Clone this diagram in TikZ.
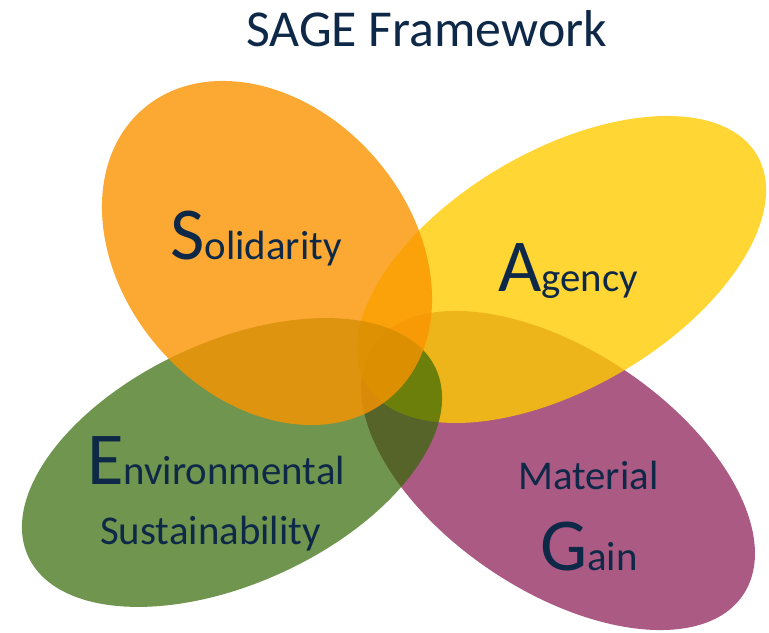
\documentclass[tikz,border=0pt]{standalone}
\usepackage{fontspec}
\setmainfont{Carlito}
\usetikzlibrary{shapes.geometric}
\definecolor{navy}{RGB}{14,40,72}
\definecolor{cpurple}{RGB}{171,90,131}
\definecolor{cyellow}{RGB}{255,204,0}
\definecolor{cgreen}{RGB}{52,105,4}
\definecolor{corange}{RGB}{250,148,0}
\tikzset{
  petal/.style={ellipse, draw=none, inner sep=0pt, outer sep=0pt},
  label/.style={anchor=base west, inner sep=0pt, text=navy, font=\fontsize{41}{41}\selectfont},
}
\newcommand{\bigini}[1]{{\fontsize{75}{75}\selectfont #1}}
\begin{document}
\begin{tikzpicture}[x=1bp,y=1bp]
\fill[white] (0,0) rectangle (769,633);
\useasboundingbox (0,0) rectangle (769,633);
\node[petal, fill=cpurple, minimum width=446bp, minimum height=240.8bp, rotate=-33.9] (gain) at (558,162.5) {};
\node[petal, fill=cyellow, fill opacity=0.8, minimum width=453bp, minimum height=237.4bp, rotate=30.3] (agency) at (561.5,363.5) {};
\node[petal, fill=cgreen, fill opacity=0.7, minimum width=448.8bp, minimum height=241.8bp, rotate=24.7] (env) at (232,170.5) {};
\node[petal, fill=corange, fill opacity=0.8, minimum width=380bp, minimum height=288bp, rotate=-49.4] (sol) at (267,380) {};
\node[label] (tsol) at (170,373) {\bigini{S}olidarity};
\node[label] (tag) at (498,341) {\bigini{A}gency};
\node[label] (ten) at (87,148) {\bigini{E}nvironmental};
\node[label] (tsu) at (100,88) {Sustainability};
\node[label] (tma) at (518,143) {Material};
\node[label] (tga) at (540,62) {\bigini{G}ain};
\node[anchor=base west, inner sep=0pt, text=navy, font=\fontsize{52}{52}\selectfont] (title) at (246,586) {SAGE Framework};
\end{tikzpicture}
\end{document}
